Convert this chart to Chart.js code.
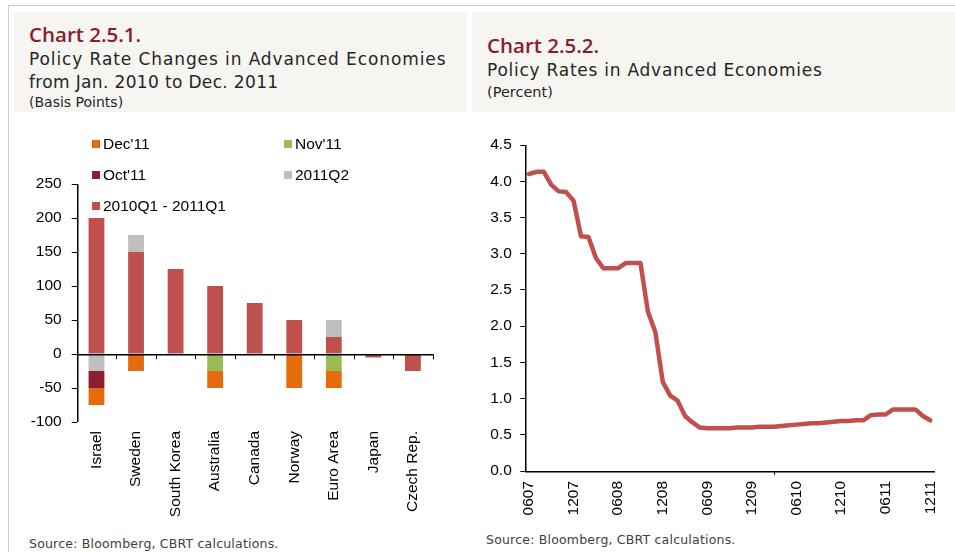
<!DOCTYPE html>
<html>
<head>
<meta charset="utf-8">
<script src="https://cdn.jsdelivr.net/npm/chart.js@4.4.1/dist/chart.umd.min.js"></script>
<style>
  html, body { margin: 0; padding: 0; background: #fff; }
  #page { position: relative; width: 955px; height: 552px; overflow: hidden; font-family: 'DejaVu Sans', sans-serif; }
  .frameTop { position: absolute; left: 8px; top: 5px; width: 947px; height: 1px; background: #d6ccba; }
  .frameLeft { position: absolute; left: 8px; top: 5px; width: 1px; height: 547px; background: #d6ccba; }
  .head { position: absolute; top: 12px; height: 100px; background: #f6f5f1; }
  .txt { position: absolute; white-space: nowrap; color: #262626; }
  .num { color: #8b1c2c; font-family: 'Open Sans', sans-serif; font-weight: 600; font-size: 20.5px; line-height: 20px; }
  .t1 { font-size: 17px; line-height: 17px; letter-spacing: 0.6px; }
  .t2 { font-size: 14px; line-height: 14px; }
  .src { font-size: 12.5px; line-height: 12.5px; letter-spacing: 0.2px; color: #404040; }
  canvas { position: absolute; }
  .leg { position: absolute; font-family: 'Liberation Sans', Arial, sans-serif; font-size: 15.5px; line-height: 16px; color: #000; white-space: nowrap; }
  .leg span { display: inline-block; width: 8px; height: 8px; margin-right: 3px; vertical-align: 1px; }
</style>
</head>
<body>
<div id="page">
  <div class="frameTop"></div>
  <div class="frameLeft"></div>
  <div class="head" style="left:14px;width:453px;"></div>
  <div class="head" style="left:472px;width:483px;"></div>

  <div class="txt num" style="left:29px;top:24px;">Chart 2.5.1.</div>
  <div class="txt t1" style="left:29px;top:50.6px;letter-spacing:0.9px;">Policy Rate Changes in Advanced Economies</div>
  <div class="txt t1" style="left:29px;top:73.5px;letter-spacing:0.35px;">from Jan. 2010 to Dec. 2011</div>
  <div class="txt t2" style="left:29px;top:95px;">(Basis Points)</div>

  <div class="txt num" style="left:487px;top:34.5px;">Chart 2.5.2.</div>
  <div class="txt t1" style="left:487px;top:61.6px;letter-spacing:0.75px;">Policy Rates in Advanced Economies</div>
  <div class="txt t2" style="left:487px;top:84.5px;font-size:14.5px;">(Percent)</div>

  <canvas id="cambios" width="470" height="402" style="left:0;top:120px;"></canvas>
  <canvas id="tasas" width="485" height="411" style="left:470px;top:120px;"></canvas>

  <div id="leyenda"></div>

  <div class="txt src" style="left:29px;top:537.5px;">Source: Bloomberg, CBRT calculations.</div>
  <div class="txt src" style="left:486px;top:533.5px;">Source: Bloomberg, CBRT calculations.</div>
</div>

<script>
// Datos del grafico 2.5.1 (puntos basicos)
const paises = ['Israel', 'Sweden', 'South Korea', 'Australia', 'Canada', 'Norway', 'Euro Area', 'Japan', 'Czech Rep.'];
const cambio2010 = [200, 150, 125, 100, 75, 50, 25, -5, -25];
const cambioQ2 = [-25, 25, 0, 0, 0, 0, 25, 0, 0];
const cambioOct = [-25, 0, 0, 0, 0, 0, 0, 0, 0];
const cambioNov = [0, 0, 0, -25, 0, 0, -25, 0, 0];
const cambioDic = [-25, -25, 0, -25, 0, -50, -25, 0, 0];
const ticksBps = [-100, -50, 0, 50, 100, 150, 200, 250];

// Datos del grafico 2.5.2 (porcentaje, mensual)
const meses = [
    '0607', '0707', '0807', '0907', '1007', '1107', '1207',
    '0108', '0208', '0308', '0408', '0508', '0608', '0708', '0808', '0908', '1008', '1108', '1208',
    '0109', '0209', '0309', '0409', '0509', '0609', '0709', '0809', '0909', '1009', '1109', '1209',
    '0110', '0210', '0310', '0410', '0510', '0610', '0710', '0810', '0910', '1010', '1110', '1210',
    '0111', '0211', '0311', '0411', '0511', '0611', '0711', '0811', '0911', '1011', '1111', '1211'
];
const tasas = [
    4.10, 4.13, 4.13, 3.95, 3.86, 3.85, 3.73,
    3.24, 3.23, 2.94, 2.80, 2.80, 2.80, 2.87, 2.87, 2.87, 2.20, 1.92, 1.23,
    1.04, 0.97, 0.76, 0.67, 0.60, 0.59, 0.59, 0.59, 0.59, 0.60, 0.60, 0.60,
    0.61, 0.61, 0.61, 0.62, 0.63, 0.64, 0.65, 0.66, 0.66, 0.67, 0.68, 0.69,
    0.69, 0.70, 0.70, 0.77, 0.78, 0.78, 0.85, 0.85, 0.85, 0.85, 0.76, 0.70
];
const ticksPct = [0, 0.5, 1, 1.5, 2, 2.5, 3, 3.5, 4, 4.5];

// Colores
const colRojo = '#c0504d';
const colGris = '#bfbfbf';
const colOct = '#8b1f2e';
const colNov = '#9bbb59';
const colDic = '#e46c0a';

Chart.defaults.font.family = "'Liberation Sans', Arial, sans-serif";
Chart.defaults.font.size = 15.5;
Chart.defaults.color = '#000';

// Leyenda manual (dos columnas, como el original)
const itemsLeyenda = [
    { texto: "Dec'11", color: colDic, x: 92, y: 143.5 },
    { texto: "Nov'11", color: colNov, x: 284, y: 143.5 },
    { texto: "Oct'11", color: colOct, x: 92, y: 174.5 },
    { texto: '2011Q2', color: colGris, x: 284, y: 174.5 },
    { texto: '2010Q1 - 2011Q1', color: colRojo, x: 92, y: 205.5 }
];
let html = '';
itemsLeyenda.forEach(it => {
    html += `<div class="leg" style="left:${it.x}px;top:${it.y - 8}px;"><span style="background:${it.color}"></span>${it.texto}</div>`;
});
document.getElementById('leyenda').innerHTML = html;

// Ejes del grafico de barras: vertical, linea del cero y marcas entre categorias
const ejeCero = {
    id: 'ejeCero',
    afterDraw(chart) {
        const { ctx, chartArea, scales } = chart;
        const y0 = Math.round(scales.y.getPixelForValue(0)) + 0.75;
        const izq = Math.round(chartArea.left) + 0.75;
        ctx.save();
        ctx.strokeStyle = '#000';
        ctx.lineWidth = 1.5;
        ctx.beginPath();
        ctx.moveTo(izq, chartArea.top);
        ctx.lineTo(izq, chartArea.bottom);
        ctx.moveTo(chartArea.left, y0);
        ctx.lineTo(chartArea.right + 1, y0);
        ctx.stroke();
        ctx.lineWidth = 1;
        ctx.beginPath();
        for (let i = 1; i <= paises.length; i++) {
            const x = Math.round(chartArea.left + (chartArea.right - chartArea.left) * i / paises.length) + 0.5;
            ctx.moveTo(x, y0);
            ctx.lineTo(x, y0 + 4.5);
        }
        ctx.stroke();
        ctx.restore();
    }
};

// Ejes del grafico de lineas
const ejesTasas = {
    id: 'ejesTasas',
    afterDraw(chart) {
        const { ctx, chartArea } = chart;
        const izq = Math.round(chartArea.left) + 0.75;
        const abj = Math.round(chartArea.bottom) + 0.75;
        ctx.save();
        ctx.strokeStyle = '#000';
        ctx.lineWidth = 1.5;
        ctx.beginPath();
        ctx.moveTo(izq, chartArea.top);
        ctx.lineTo(izq, abj);
        ctx.lineTo(chartArea.right + 1, abj);
        ctx.stroke();
        ctx.restore();
    }
};

let cambiosChart, tasasChart;

function crearGraficoCambios() {
    const ctx = document.getElementById('cambios').getContext('2d');
    const serie = (label, data, color) => ({
        label: label,
        data: data,
        backgroundColor: color,
        borderWidth: 0,
        categoryPercentage: 1,
        barPercentage: 0.4
    });
    cambiosChart = new Chart(ctx, {
        type: 'bar',
        data: {
            labels: paises,
            datasets: [
                serie('2010Q1 - 2011Q1', cambio2010, colRojo),
                serie('2011Q2', cambioQ2, colGris),
                serie("Oct'11", cambioOct, colOct),
                serie("Nov'11", cambioNov, colNov),
                serie("Dec'11", cambioDic, colDic)
            ]
        },
        options: {
            responsive: false,
            animation: false,
            layout: { padding: { top: 64, right: 37.3, bottom: 0, left: 0 } },
            plugins: { legend: { display: false }, tooltip: { enabled: false } },
            scales: {
                x: {
                    stacked: true,
                    offset: true,
                    display: false
                },
                x2: {
                    type: 'category',
                    labels: paises,
                    position: 'bottom',
                    offset: true,
                    grid: { display: false, drawTicks: false },
                    border: { display: false },
                    ticks: { autoSkip: false, minRotation: 90, maxRotation: 90, padding: 9 },
                    afterFit: function(scale) { scale.height = 100; }
                },
                y: {
                    stacked: true,
                    min: -100,
                    max: 250,
                    afterBuildTicks: function(scale) {
                        scale.ticks = ticksBps.map(v => ({ value: v }));
                    },
                    grid: { drawOnChartArea: false, tickLength: 5, color: '#000' },
                    border: { display: false },
                    ticks: { padding: 10 },
                    afterFit: function(scale) { scale.width = 76.7; }
                }
            }
        },
        plugins: [ejeCero]
    });
}

function crearGraficoTasas() {
    const ctx = document.getElementById('tasas').getContext('2d');
    const marca = c => (c.index !== undefined && c.index % 6 === 0) ? '#000' : 'rgba(0,0,0,0)';
    tasasChart = new Chart(ctx, {
        type: 'line',
        data: {
            labels: meses,
            datasets: [{
                label: 'Policy rate',
                data: tasas,
                borderColor: colRojo,
                borderWidth: 4.5,
                borderCapStyle: 'round',
                borderJoinStyle: 'round',
                pointRadius: 0,
                fill: false,
                tension: 0
            }]
        },
        options: {
            responsive: false,
            animation: false,
            layout: { padding: { top: 25, right: 16.7, bottom: 0, left: 0 } },
            plugins: { legend: { display: false }, tooltip: { enabled: false } },
            scales: {
                x: {
                    offset: true,
                    grid: { offset: true, drawOnChartArea: false, tickLength: 4, color: marca, tickColor: marca },
                    border: { display: false },
                    ticks: {
                        autoSkip: false,
                        minRotation: 90,
                        maxRotation: 90,
                        padding: 6,
                        callback: function(value, index) {
                            return index % 6 === 0 ? this.getLabelForValue(value) : null;
                        }
                    },
                    afterFit: function(scale) { scale.height = 60; }
                },
                y: {
                    min: 0,
                    max: 4.5,
                    afterBuildTicks: function(scale) {
                        scale.ticks = ticksPct.map(v => ({ value: v }));
                    },
                    grid: { drawOnChartArea: false, tickLength: 5, color: '#000' },
                    border: { display: false },
                    ticks: {
                        padding: 8.5,
                        callback: function(value) { return value.toFixed(1); }
                    },
                    afterFit: function(scale) { scale.width = 55.3; }
                }
            }
        },
        plugins: [ejesTasas]
    });
}

crearGraficoCambios();
crearGraficoTasas();
</script>
</body>
</html>
